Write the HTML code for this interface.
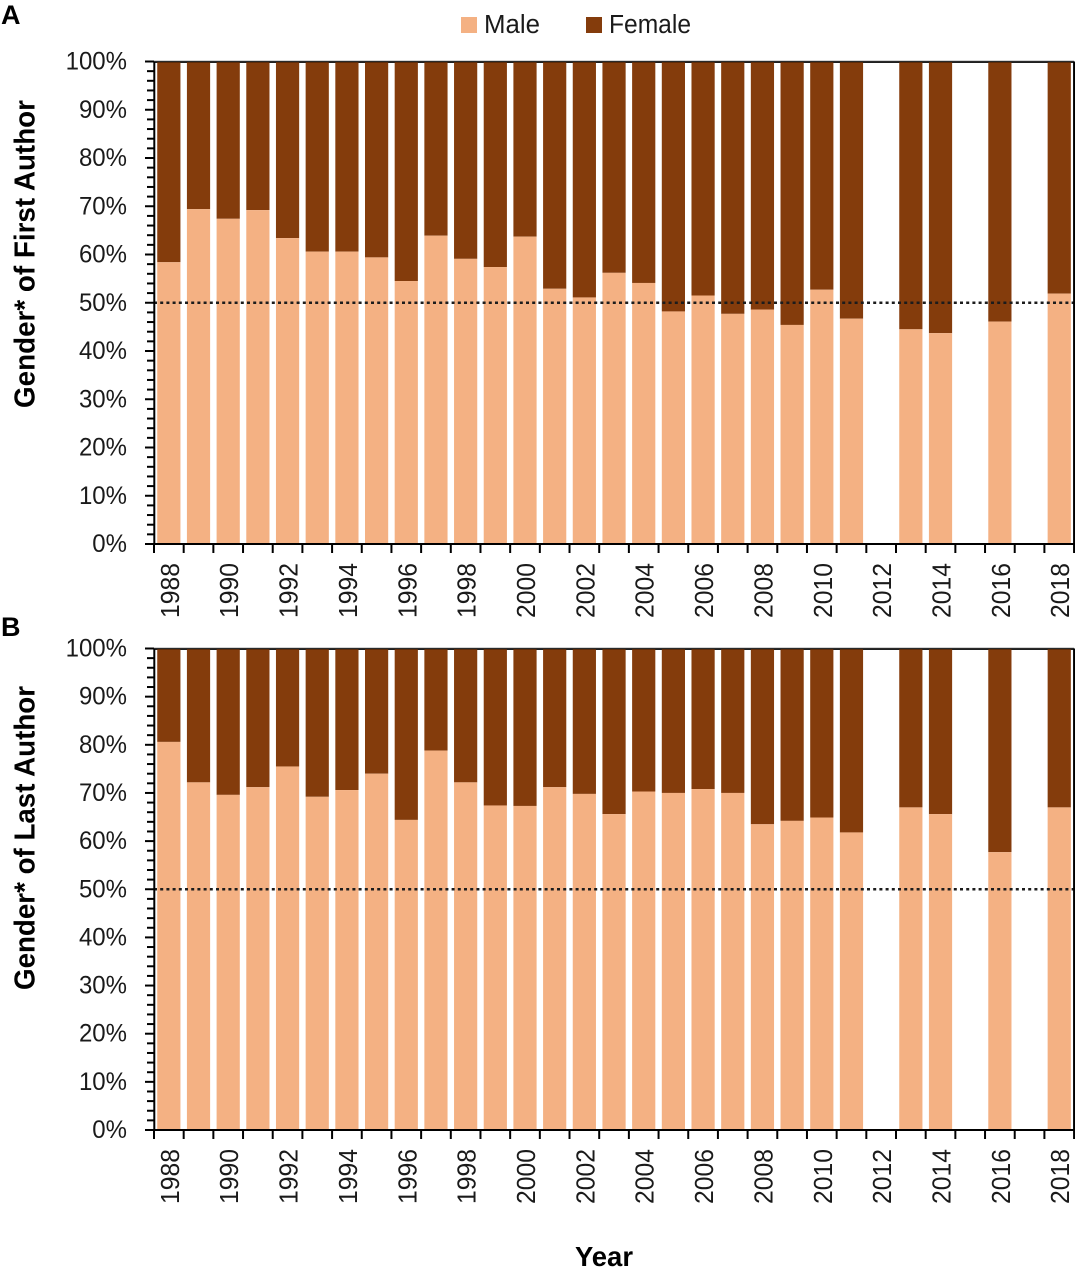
<!DOCTYPE html>
<html lang="en">
<head>
<meta charset="utf-8">
<title>Gender of first and last authors by year</title>
<style>
html,body{margin:0;padding:0;background:#fff;}
svg{display:block;}
text{font-family:"Liberation Sans",sans-serif;fill:#1a1a1a;}
</style>
</head>
<body>
<svg id="chart" xmlns="http://www.w3.org/2000/svg" width="1075" height="1268" viewBox="0 0 1075 1268">
  <rect x="461" y="17" width="16" height="16" fill="#F4B183"/>
  <text x="484" y="33" font-size="25.5" textLength="56" lengthAdjust="spacingAndGlyphs">Male</text>
  <rect x="586" y="17" width="16" height="16" fill="#843C0C"/>
  <text x="609" y="33" font-size="25.5" textLength="82" lengthAdjust="spacingAndGlyphs">Female</text>
  <text x="1" y="24" font-size="27" font-weight="700" style="fill:#000">A</text>
  <text x="1" y="636" font-size="27" font-weight="700" style="fill:#000">B</text>
  <text transform="translate(34.5,408) rotate(-90)" font-size="29" font-weight="700" textLength="308" lengthAdjust="spacingAndGlyphs" style="fill:#000">Gender* of First Author</text>
  <text transform="translate(34.5,990) rotate(-90)" font-size="29" font-weight="700" textLength="304" lengthAdjust="spacingAndGlyphs" style="fill:#000">Gender* of Last Author</text>
  <text x="575" y="1266" font-size="28" font-weight="700" textLength="58" lengthAdjust="spacingAndGlyphs" style="fill:#000">Year</text>
</svg>
<script>
const years = [1988,1989,1990,1991,1992,1993,1994,1995,1996,1997,1998,1999,2000,2001,2002,2003,2004,2005,2006,2007,2008,2009,2010,2011,2012,2013,2014,2015,2016,2017,2018];
const firstAuthorMale = [58.4,69.4,67.4,69.2,63.4,60.6,60.6,59.4,54.5,63.9,59.1,57.4,63.7,52.9,51.1,56.2,54.1,48.2,51.5,47.7,48.6,45.4,52.7,46.7,null,44.5,43.7,null,46.1,null,51.9];
const lastAuthorMale = [80.6,72.2,69.6,71.2,75.5,69.2,70.6,74,64.4,78.8,72.2,67.4,67.3,71.2,69.8,65.6,70.3,70,70.8,70,63.5,64.2,64.9,61.8,null,67,65.6,null,57.7,null,67];
const yTickValues = [0,10,20,30,40,50,60,70,80,90,100];
const yMinorTickValues = [2,4,6,8,12,14,16,18,22,24,26,28,32,34,36,38,42,44,46,48,52,54,56,58,62,64,66,68,72,74,76,78,82,84,86,88,92,94,96,98];
const referenceLineValue = [50];

const NS = 'http://www.w3.org/2000/svg';
const svg = document.getElementById('chart');
const X0 = 154, STEP = 29.68, BAR_W = 23.2;
const MALE = '#F4B183', FEMALE = '#843C0C';

function make(tag, attrs, parent) {
  const el = document.createElementNS(NS, tag);
  for (const k in attrs) el.setAttribute(k, attrs[k]);
  parent.appendChild(el);
  return el;
}
function xEdge(i) { return X0 + i * STEP; }
function xCenter(i) { return X0 + (i + 0.5) * STEP; }
function squeeze(textEl, length) {
  textEl.setAttribute('textLength', length);
  textEl.setAttribute('lengthAdjust', 'spacingAndGlyphs');
}

function drawPanel(key, values, top, bottom) {
  const y = v => bottom - (v / 100) * (bottom - top);
  const x1 = xEdge(years.length);

  const panel = make('g', {}, svg);
  
  

  const topGrey = make('line', {x1: X0, x2: x1, y1: top - 0.5, y2: top - 0.5, stroke: '#a8a8a8', 'stroke-width': 1}, panel);
  
  
  const topLine = make('line', {x1: X0, x2: x1, y1: top + 0.6, y2: top + 0.6, stroke: '#000', 'stroke-width': 1.6}, panel);
  
  

  values.forEach((v, i) => {
    if (v === null) return;
    const bx = xCenter(i) - BAR_W / 2;
    const f = make('rect', {x: bx, y: y(100) + 0.8, width: BAR_W, height: y(v) - y(100) - 0.8, fill: FEMALE}, panel);
    
    
    const m = make('rect', {x: bx, y: y(v), width: BAR_W, height: y(0) - y(v), fill: MALE}, panel);
    
    
  });

  referenceLineValue.forEach(v => {
    const ref = make('line', {x1: X0, x2: x1, y1: y(v), y2: y(v), stroke: '#1c1c1c', 'stroke-width': 2.6, 'stroke-dasharray': '3 3.2'}, panel);
    
    
  });

  const yAxis = make('line', {x1: X0 + 0.3, x2: X0 + 0.3, y1: top, y2: bottom + 1, stroke: '#000', 'stroke-width': 2}, panel);
  
  
  const rightAxis = make('line', {x1: x1, x2: x1, y1: top, y2: bottom + 1, stroke: '#000', 'stroke-width': 2}, panel);
  
  
  const xAxis = make('line', {x1: X0 - 9, x2: x1 + 0.5, y1: bottom, y2: bottom, stroke: '#000', 'stroke-width': 2}, panel);
  
  

  yMinorTickValues.forEach(v => {
    const t = make('line', {x1: X0 - 7, x2: X0, y1: y(v), y2: y(v), stroke: '#000', 'stroke-width': 2}, panel);
    
    
  });
  yTickValues.forEach(v => {
    const t = make('line', {x1: X0 - 9, x2: X0, y1: y(v), y2: y(v), stroke: '#000', 'stroke-width': 2}, panel);
    
    
    const label = make('text', {x: 127, y: y(v) + 8, 'text-anchor': 'end', 'font-size': 25}, panel);
    label.textContent = v + '%';
    squeeze(label, label.getComputedTextLength() * 0.96);
    
    
  });

  for (let i = 0; i <= years.length; i++) {
    const t = make('line', {x1: xEdge(i), x2: xEdge(i), y1: bottom, y2: bottom + 9, stroke: '#000', 'stroke-width': 2}, panel);
    
    
  }
  years.forEach((yr, i) => {
    if (i % 2 !== 0) return;
    const bx = xCenter(i) + 10, by = bottom + 74;
    const label = make('text', {transform: 'translate(' + bx + ',' + by + ') rotate(-90)', 'font-size': 26}, panel);
    label.textContent = yr;
    squeeze(label, 55);
    
    
  });
}

drawPanel('first-author', firstAuthorMale, 61.5, 544);
drawPanel('last-author', lastAuthorMale, 648.5, 1130);
</script>
</body>
</html>
